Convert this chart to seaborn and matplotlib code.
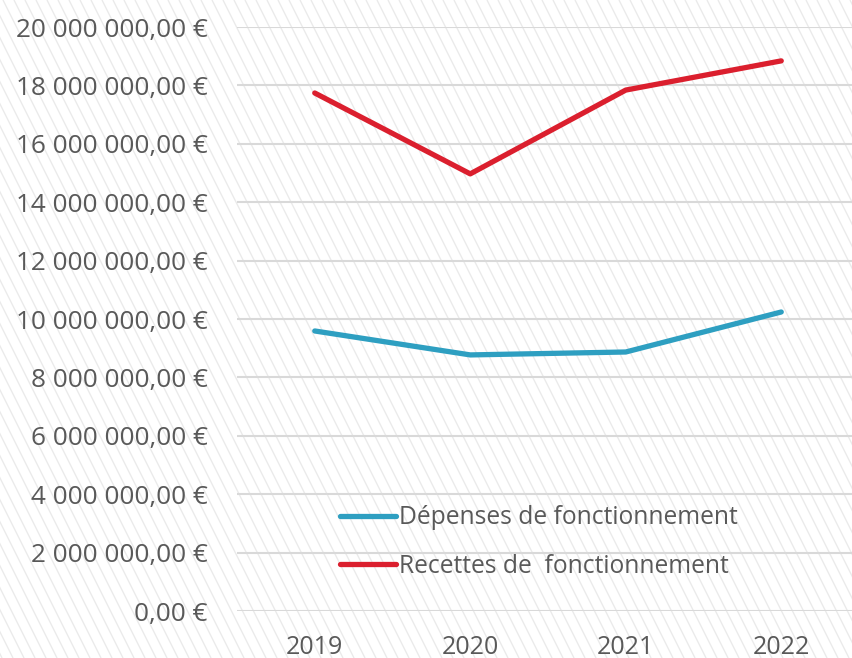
import matplotlib
matplotlib.use("Agg")
import matplotlib.pyplot as plt
import matplotlib.ticker as mticker
from matplotlib.collections import LineCollection
from matplotlib.transforms import IdentityTransform
import seaborn as sns
import pandas as pd
import numpy as np

years = [2019, 2020, 2021, 2022]
depenses = [9.59e6, 8.77e6, 8.87e6, 10.24e6]
recettes = [17.74e6, 14.97e6, 17.84e6, 18.84e6]
label_dep = "Dépenses de fonctionnement"
label_rec = "Recettes de  fonctionnement"
y_ticks = [0, 2e6, 4e6, 6e6, 8e6, 10e6, 12e6, 14e6, 16e6, 18e6, 20e6]

df = pd.DataFrame({
    "year": years * 2,
    "value": depenses + recettes,
    "serie": [label_dep] * 4 + [label_rec] * 4,
})

sns.set_style("white")
plt.rcParams["font.family"] = ["Open Sans", "DejaVu Sans"]

TEXT = "#595959"
W, H = 852, 658
fig = plt.figure(figsize=(W / 100, H / 100), dpi=100)
fig.patch.set_facecolor("white")

# diagonal stripe background (decoration)
slope = 0.5
starts = np.arange(-slope * H - 20, W + 20, 11.0)
segs = [[(x0, H), (x0 + slope * H, 0)] for x0 in starts]
stripes = LineCollection(segs, colors="#ebebeb", linewidths=1.0,
                         transform=IdentityTransform(), zorder=-10)
fig.add_artist(stripes)

ax = fig.add_axes([237 / W, 1 - 611 / H, (859 - 237) / W, (611 - 27) / H])
ax.set_facecolor("none")

sns.lineplot(data=df, x="year", y="value", hue="serie", ax=ax,
             palette={label_dep: "#2E9FC1", label_rec: "#DB1F2E"},
             linewidth=3.8, solid_capstyle="round", legend=True)

ax.set_xlim(2018.5, 2022.5)
ax.set_ylim(0, 20e6)
ax.set_xticks(years)
ax.set_yticks(y_ticks)
ax.yaxis.set_major_formatter(mticker.FuncFormatter(
    lambda v, p: f"{v:,.2f}".replace(",", " ").replace(".", ",") + " €"))
ax.grid(axis="y", color="#d9d9d9", linewidth=1.5)
ax.grid(axis="x", visible=False)
for s in ax.spines.values():
    s.set_visible(False)
ax.tick_params(axis="y", length=0, pad=21, labelsize=18.8, labelcolor=TEXT)
ax.tick_params(axis="x", length=0, pad=17, labelsize=18, labelcolor=TEXT)
ax.set_xlabel("")
ax.set_ylabel("")

leg = ax.legend(loc="center left", bbox_to_anchor=(0.165, 0.118), frameon=False,
                fontsize=17.7, handlelength=2.3, handletextpad=0.1,
                labelspacing=0.95, borderpad=0, borderaxespad=0)
for t in leg.get_texts():
    t.set_color(TEXT)
for h in leg.get_lines():
    h.set_linewidth(3.8)
    h.set_solid_capstyle("round")

fig.savefig("out.png", dpi=100)
